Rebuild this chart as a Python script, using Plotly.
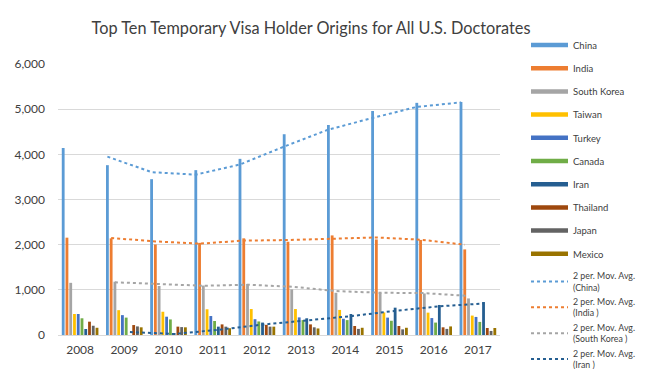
import plotly.graph_objects as go
import pandas as pd

years = [2008, 2009, 2010, 2011, 2012, 2013, 2014, 2015, 2016, 2017]

china = [4140, 3760, 3450, 3650, 3900, 4445, 4650, 4960, 5140, 5160]
india = [2155, 2140, 2005, 2040, 2140, 2065, 2205, 2115, 2105, 1895]
south_korea = [1155, 1180, 1085, 1095, 1130, 1010, 935, 935, 920, 810]
taiwan = [465, 550, 515, 570, 575, 575, 555, 500, 495, 430]
turkey = [465, 440, 405, 420, 350, 390, 360, 385, 375, 400]
canada = [370, 385, 345, 310, 300, 330, 330, 315, 275, 290]
iran = [133, 0, 45, 185, 275, 370, 465, 605, 665, 730]
thailand = [295, 220, 185, 235, 225, 235, 200, 200, 170, 155]
japan = [205, 190, 175, 185, 185, 170, 135, 125, 135, 90]
mexico = [160, 170, 170, 150, 185, 145, 160, 160, 190, 155]

series_names = ["China", "India", "South Korea", "Taiwan", "Turkey", "Canada",
                "Iran", "Thailand", "Japan", "Mexico"]
series_values = [china, india, south_korea, taiwan, turkey, canada,
                 iran, thailand, japan, mexico]
colors = ["#5B9BD5", "#ED7D31", "#A5A5A5", "#FFC000", "#4472C4", "#70AD47",
          "#255E91", "#9E480E", "#636363", "#997300"]

ma_series = ["China", "India", "South Korea", "Iran"]
ma_labels = ["2 per. Mov. Avg.<br>(China)", "2 per. Mov. Avg.<br>(India )",
             "2 per. Mov. Avg.<br>(South Korea )", "2 per. Mov. Avg.<br>(Iran )"]

FONT = "Lato, 'Open Sans', sans-serif"
bargap = 0.15
n = len(series_names)
slot = (1 - bargap) / n

fig = go.Figure()

for i, (name, vals, col) in enumerate(zip(series_names, series_values, colors)):
    fig.add_trace(go.Bar(
        x=years, y=vals, name=name, marker_color=col, marker_line_width=0,
        showlegend=False, legendgroup=name,
    ))

# legend swatches for the bar series (thick line style like the reference)
for i, (name, col) in enumerate(zip(series_names, colors)):
    fig.add_trace(go.Scatter(
        x=[None], y=[None], mode="lines", name=name,
        line=dict(color=col, width=4.5), legendgroup=name,
        showlegend=True, legend="legend",
    ))

# moving averages positioned at each series' bar offset
for name, label in zip(ma_series, ma_labels):
    i = series_names.index(name)
    vals = pd.Series(series_values[i]).rolling(2).mean()
    off = -(1 - bargap) / 2 + slot * (i + 0.5)
    xs = [y + off for y in years]
    fig.add_trace(go.Scatter(
        x=xs[1:], y=list(vals[1:]), mode="lines", name=label,
        line=dict(color=colors[i], width=2, dash="dot"),
        legend="legend2", showlegend=True,
    ))

PH = 271.0
fig.update_layout(
    width=652, height=369,
    margin=dict(l=58, r=152, t=64, b=34, autoexpand=False),
    paper_bgcolor="white", plot_bgcolor="white",
    barmode="group", bargap=bargap, bargroupgap=0.25,
    font=dict(family=FONT, color="#595959"),
    title=dict(text="Top Ten Temporary Visa Holder Origins for All U.S. Doctorates",
               x=311 / 652, xanchor="center", y=1 - 28 / 369, yanchor="middle",
               font=dict(size=16.3, color="#404040", family=FONT)),
    xaxis=dict(range=[2007.5, 2017.5], tickvals=years, ticktext=[str(y) for y in years],
               showgrid=False, showline=True, linecolor="#D9D9D9", linewidth=1,
               ticks="", tickfont=dict(size=12, color="#404040"),
               ticklabelstandoff=4, zeroline=False, fixedrange=True),
    yaxis=dict(range=[0, 6000], tickvals=[0, 1000, 2000, 3000, 4000, 5000, 6000],
               tickformat=",", showgrid=True, gridcolor="#D9D9D9", gridwidth=1,
               zeroline=False, showline=False, ticks="",
               tickfont=dict(size=12, color="#404040"), ticklabelstandoff=12),
    legend=dict(x=(526 - 58) / 442, xanchor="left", y=1 - (268.5 - 64) / PH, yanchor="bottom",
                font=dict(size=9.5, color="#404040", family=FONT),
                tracegroupgap=4.2, traceorder="grouped", bgcolor="rgba(0,0,0,0)",
                itemwidth=37),
    legend2=dict(x=(526 - 58) / 442, xanchor="left", y=1 - 199.5 / PH, yanchor="top",
                 font=dict(size=8.8, color="#404040", family=FONT),
                 tracegroupgap=0, bgcolor="rgba(0,0,0,0)", itemwidth=37),
)

fig.write_html("out.html")
